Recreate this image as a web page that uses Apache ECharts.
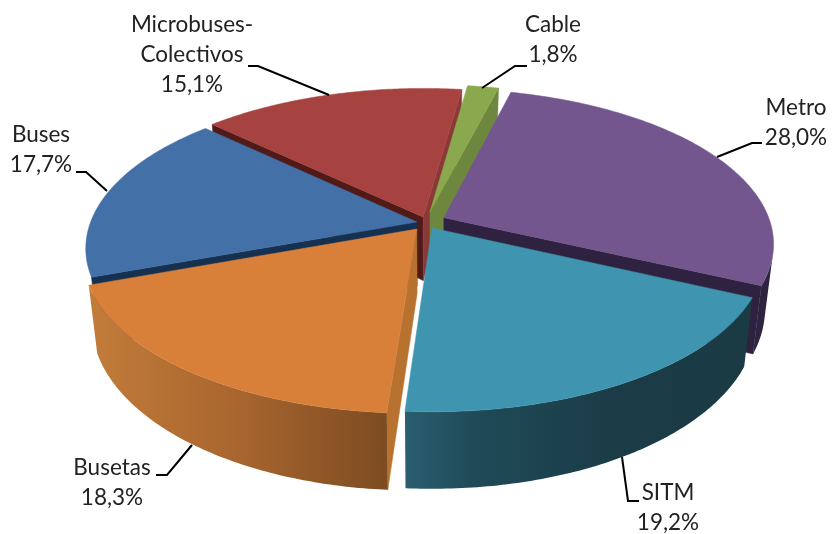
<!DOCTYPE html>
<html><head><meta charset="utf-8">
<style>html,body{margin:0;padding:0;background:#fff}#c{width:832px;height:534px}</style>
<script src="https://cdn.jsdelivr.net/npm/echarts@6/dist/echarts.min.js"></script>
</head><body><div id="c"></div>
<script>
// Data (clockwise from the Metro slice)
const categories = ['Metro', 'SITM', 'Busetas', 'Buses', 'Microbuses-\nColectivos', 'Cable'];
const shares = [28.0, 19.2, 18.3, 17.7, 15.1, 1.8];

// Styles
const topColors = ['#73568e', '#3f95af', '#d8803a', '#4470a8', '#a64341', '#8aa84e'];
const startWallColors = ['#2e2240', '#1a3b44', '#b8722f', '#16304f', '#4f1a18', '#6e873f'];
const endWallColors = ['#2e2240', '#1a3b44', '#7c4c22', '#16304f', '#8a3a36', '#6e873f'];
const outerStops = [
  [[0, '#2f2440'], [1, '#2f2440']],
  [[0, '#2a5f70'], [0.2, '#1f4a58'], [0.6, '#1b3c47'], [1, '#1a3b44']],
  [[0, '#c27c3a'], [0.5, '#a8652e'], [1, '#7c4c22']],
  null,
  null,
  null
];
const explodeU = [0.049, 0.012, -0.034, -0.034, -0.015, 0.006];
const explodeV = [-0.042, 0.026, 0.033, -0.013, -0.046, -0.08];
const drawOrder = [4, 5, 0, 3, 2, 1];
const firstAngle = 14.3;
const cam = {cx: 428, cy: 224, R: 327, Rt: 152, p: 0.165, D: 64, k: 0.025};

const labelBoxes = [
  {x: 796, y: 123, leader: [[717, 157], [752, 143], [762, 143]]},
  {x: 668, y: 508, leader: [[622, 457], [628, 501], [639, 501]]},
  {x: 112, y: 483, leader: [[192, 445], [167, 475], [156, 475]]},
  {x: 41, y: 150, leader: [[107, 191], [86, 172], [76, 172]]},
  {x: 192, y: 55, leader: [[329, 95], [258, 66], [248, 66]]},
  {x: 553, y: 40, leader: [[482, 88], [515, 66], [527, 66]]}
];

const total = shares.reduce((a, b) => a + b, 0);
const rad = d => d * Math.PI / 180;
function project(u, v, z) {
  const s = 1 / (1 - cam.p * v);
  return [cam.cx + cam.R * u * s * (1 - cam.k * z), cam.cy + cam.Rt * v * s + cam.D * z * s];
}
function area(pts) {
  let a = 0;
  pts.forEach((p, i) => { const q = pts[(i + 1) % pts.length]; a += p[0] * q[1] - q[0] * p[1]; });
  return a;
}
function renderSlice(params, api) {
  const i = api.value(0), val = api.value(1);
  let before = 0;
  for (let k = 0; k < i; k++) before += shares[k];
  const a0 = firstAngle + before / total * 360;
  const a1 = a0 + val / total * 360;
  const ou = explodeU[i], ov = explodeV[i];
  const rim = (deg, z) => project(ou + Math.sin(rad(deg)), ov - Math.cos(rad(deg)), z);
  const apex = z => project(ou, ov, z);
  const order = drawOrder.indexOf(i) * 10 + 1;
  const children = [];
  const poly = (points, fill, dz) => children.push({
    type: 'polygon', shape: {points}, z2: order + dz,
    style: {fill, stroke: typeof fill === 'string' ? fill : null, lineWidth: 0.5}
  });
  // radial walls, kept only when they face the viewer
  const sw = [rim(a0, 0), apex(0), apex(1), rim(a0, 1)];
  if (area(sw) > 0) poly(sw, startWallColors[i], 0);
  const ew = [apex(0), rim(a1, 0), rim(a1, 1), apex(1)];
  if (area(ew) > 0) poly(ew, endWallColors[i], 0);
  // outer wall: front-facing arc only
  const N = 90, topArc = [], botArc = [];
  if (outerStops[i]) {
    for (let k = 0; k < N; k++) {
      const b0 = a0 + (a1 - a0) * k / N, b1 = a0 + (a1 - a0) * (k + 1) / N;
      const q = [rim(b1, 0), rim(b0, 0), rim(b0, 1), rim(b1, 1)];
      if (area(q) > 0) {
        if (!topArc.length) { topArc.push(rim(b0, 0)); botArc.push(rim(b0, 1)); }
        topArc.push(rim(b1, 0)); botArc.push(rim(b1, 1));
      }
    }
  }
  if (topArc.length) {
    poly(topArc.concat(botArc.slice().reverse()),
      new echarts.graphic.LinearGradient(0, 0, 1, 0,
        outerStops[i].map(s => ({offset: s[0], color: s[1]}))), 1);
  }
  // top face
  const face = [apex(0)];
  for (let k = 0; k <= N; k++) face.push(rim(a0 + (a1 - a0) * k / N, 0));
  poly(face, topColors[i], 2);
  // label and leader
  const box = labelBoxes[i];
  children.push({
    type: 'polyline', shape: {points: box.leader}, z2: 200,
    style: {fill: null, stroke: '#000', lineWidth: 2}
  });
  children.push({
    type: 'text', z2: 201,
    style: {
      text: categories[i] + '\n' + val.toFixed(1).replace('.', ',') + '%',
      x: box.x, y: box.y, align: 'center', verticalAlign: 'middle',
      fontFamily: 'Lato', fontSize: 22.5, lineHeight: 30, fill: '#222'
    }
  });
  return {type: 'group', children};
}
const chart = echarts.init(document.getElementById('c'), null, {renderer: 'canvas'});
chart.setOption({
  animation: false,
  series: [{
    type: 'custom', coordinateSystem: 'none', silent: true,
    renderItem: renderSlice,
    data: shares.map((v, i) => [i, v])
  }]
});
</script></body></html>
